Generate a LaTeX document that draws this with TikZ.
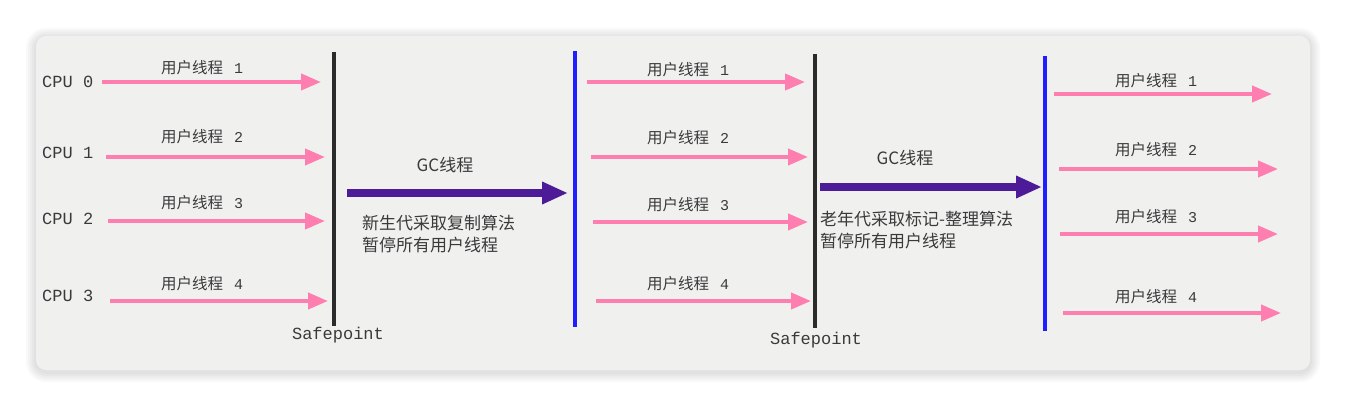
\documentclass[tikz,border=0pt]{standalone}
\usepackage{fontspec}
\setmonofont{Liberation Mono}
\newfontfamily\cjk{Noto Sans CJK SC}
\usetikzlibrary{arrows.meta}
\definecolor{cardbg}{HTML}{F0F1EF}
\definecolor{pinkc}{HTML}{FF7EB0}
\definecolor{gcpurple}{HTML}{4D1A98}
\definecolor{bluec}{HTML}{1E1EFF}
\definecolor{darkline}{HTML}{2B2B2B}
\definecolor{txt}{HTML}{3A3A3A}
\tikzset{
  userarrow/.style={draw=pinkc, line width=4pt, -{Triangle[length=20pt,width=16pt]}},
  gcarrow/.style={draw=gcpurple, line width=8pt, -{Triangle[length=26pt,width=21pt]}},
  safeline/.style={draw=darkline, line width=3.5pt},
  resumeline/.style={draw=bluec, line width=3.5pt},
  ulabel/.style={font=\cjk\fontsize{15.5}{17}\selectfont, text=txt, inner sep=0pt},
  monolabel/.style={font=\ttfamily\fontsize{17}{19}\selectfont, text=txt, inner sep=0pt},
  cpulabel/.style={monolabel, anchor=west},
  desc/.style={font=\cjk\fontsize{17}{22}\selectfont, text=txt, inner sep=0pt, anchor=north west, align=left},
}
\begin{document}
\begin{tikzpicture}[x=1pt,y=-1pt]
\useasboundingbox (0,0) rectangle (1346,406);
\fill[white] (0,0) rectangle (1346,406);
% soft shadow made of layered rounded rectangles
\foreach \d in {10,8,6,4,2} {
  \fill[black, opacity=0.025, rounded corners=10pt+\d pt] (36-\d,36-\d+2) rectangle (1310+\d,370+\d+2);
}
\fill[cardbg, rounded corners=10pt] (36,36) rectangle (1310,370);

% CPU labels
\node[cpulabel] (cpu0) at (42,82) {CPU 0};
\node[cpulabel] (cpu1) at (42,153) {CPU 1};
\node[cpulabel] (cpu2) at (42,219) {CPU 2};
\node[cpulabel] (cpu3) at (42,296) {CPU 3};

% user thread arrows
\foreach \g/\n/\sx/\ex/\y/\lx/\ly in {
  1/1/102/321/82/202/68, 1/2/106/325/157/202/137, 1/3/108/325/221/202/203, 1/4/110/328/301/202/284,
  2/1/587/805/82/688/70, 2/2/591/808/157/688/138, 2/3/593/808/222/688/205, 2/4/596/811/301/688/284,
  3/1/1054/1272/94/1156/81, 3/2/1059/1278/169/1156/150, 3/3/1060/1278/234/1156/217, 3/4/1063/1281/313/1156/297} {
  \coordinate (s\g\n) at (\sx,\y);
  \coordinate (e\g\n) at (\ex,\y);
  \draw[userarrow] (s\g\n) -- (e\g\n);
  \node[ulabel] (l\g\n) at (\lx,\ly) {用户线程\hspace{11pt}{\ttfamily\fontsize{15}{17}\selectfont\n}};
}

% vertical lines
\coordinate (sp1t) at (334,52); \coordinate (sp1b) at (334,326);
\draw[safeline] (sp1t) -- (sp1b);
\coordinate (r1t) at (575,51); \coordinate (r1b) at (575,327);
\draw[resumeline] (r1t) -- (r1b);
\coordinate (sp2t) at (815,54); \coordinate (sp2b) at (815,328);
\draw[safeline] (sp2t) -- (sp2b);
\coordinate (r2t) at (1045,56); \coordinate (r2b) at (1045,331);
\draw[resumeline] (r2t) -- (r2b);

\node[monolabel] (safe1) at (338,335) {Safepoint};
\node[monolabel] (safe2) at (816,340) {Safepoint};

% GC arrows
\coordinate (gc1s) at (347,193); \coordinate (gc1e) at (568,193);
\draw[gcarrow] (gc1s) -- (gc1e);
\node[ulabel, font=\cjk\fontsize{17}{19}\selectfont] (gc1l) at (445,165) {GC线程};
\node[desc] (d1) at (362,215) {新生代采取复制算法\\暂停所有用户线程};

\coordinate (gc2s) at (820,187); \coordinate (gc2e) at (1042,187);
\draw[gcarrow] (gc2s) -- (gc2e);
\node[ulabel, font=\cjk\fontsize{17}{19}\selectfont] (gc2l) at (905,158) {GC线程};
\node[desc] (d2) at (820,211) {老年代采取标记-整理算法\\暂停所有用户线程};
\end{tikzpicture}
\end{document}
